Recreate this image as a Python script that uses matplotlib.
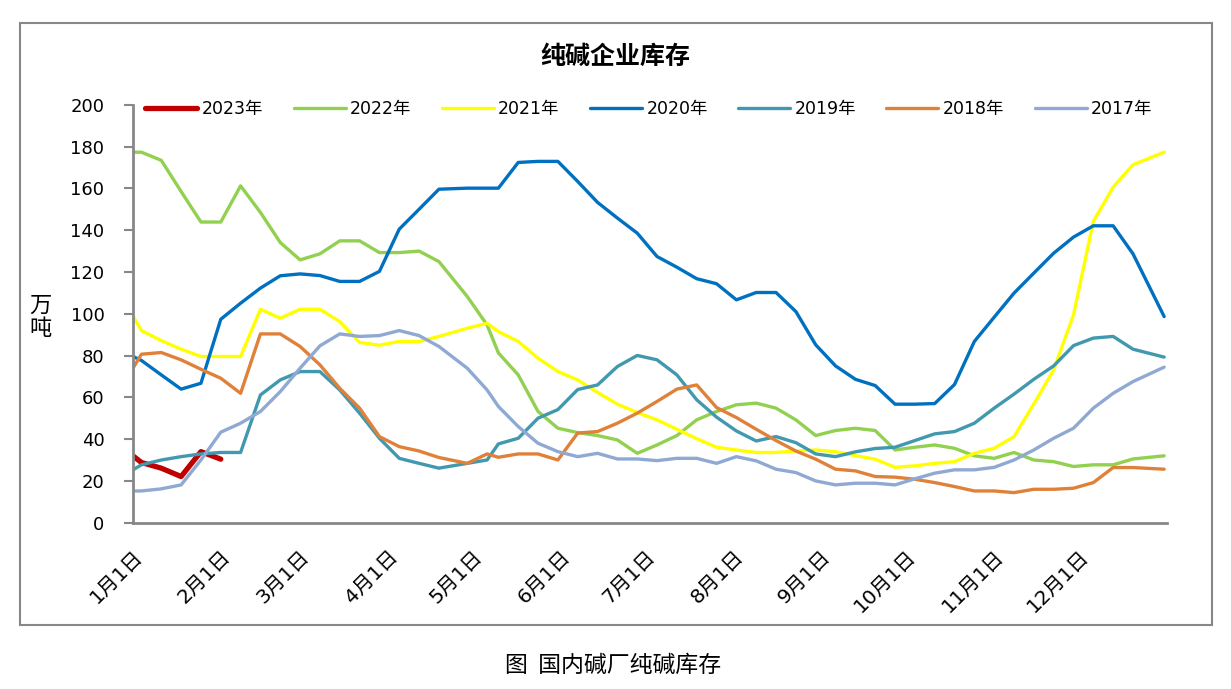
import pandas as pd
import matplotlib
matplotlib.use("Agg")
import matplotlib.pyplot as plt
from matplotlib.patches import Rectangle

plt.rcParams['font.family'] = ['DejaVu Sans', 'Noto Sans CJK SC']

# weekly dates (shared by all years, drawn on one calendar year)
dates = ['01-01', '01-04', '01-11', '01-18', '01-25',
         '02-01', '02-08', '02-15', '02-22',
         '03-01', '03-08', '03-15', '03-22', '03-29',
         '04-05', '04-12', '04-19', '04-29',
         '05-06', '05-10', '05-17', '05-24', '05-31',
         '06-07', '06-14', '06-21', '06-28',
         '07-05', '07-12', '07-19', '07-26',
         '08-02', '08-09', '08-16', '08-23', '08-30',
         '09-06', '09-13', '09-20', '09-27',
         '10-04', '10-11', '10-18', '10-25',
         '11-01', '11-08', '11-15', '11-22', '11-29',
         '12-06', '12-13', '12-20', '12-31']

y2023 = [32.1, 28.9, 26.2, 22.2, 34.1, 30.5]
y2022 = [177.3, 177.3, 173.4, 158.5, 143.9, 143.9, 161.2, 148.5, 134.1, 125.8,
         128.7, 134.9, 134.9, 129.3, 129.3, 130.0, 125.0, 108.3, 94.7, 81.3,
         70.8, 53.3, 45.3, 43.2, 41.8, 39.7, 33.3, 37.3, 41.8, 49.3,
         53.3, 56.5, 57.3, 54.9, 49.3, 41.8, 44.2, 45.3, 44.2, 34.9,
         36.2, 37.3, 35.7, 32.1, 30.9, 33.7, 30.1, 29.3, 27.0, 27.8,
         27.8, 30.6, 32.1]
y2021 = [99.0, 92.0, 87.2, 83.1, 79.6, 79.6, 79.6, 102.2, 97.9, 102.2,
         102.2, 96.3, 86.3, 85.0, 86.8, 86.8, 89.2, 93.1, 95.5, 91.5,
         86.8, 78.8, 72.4, 68.4, 62.4, 56.8, 52.8, 49.3, 44.8, 40.3,
         36.2, 34.9, 33.7, 33.7, 34.4, 34.9, 34.1, 32.2, 30.5, 26.6,
         27.3, 28.5, 29.3, 33.3, 35.7, 41.3, 56.9, 73.2, 99.5, 144.2,
         160.6, 171.3, 177.3]
y2020 = [79.6, 77.7, 70.8, 64.0, 66.8, 97.4, 105.1, 112.3, 118.2, 119.1,
         118.3, 115.5, 115.5, 120.3, 140.5, 150.0, 159.6, 160.1, 160.1, 160.1,
         172.4, 172.9, 172.9, 163.3, 153.3, 145.8, 138.6, 127.4, 122.3, 116.8,
         114.4, 106.7, 110.2, 110.2, 101.1, 85.2, 75.1, 68.7, 65.7, 56.8,
         56.8, 57.1, 66.2, 86.8, 98.4, 109.9, 119.5, 129.0, 136.7, 142.1,
         142.1, 128.7, 98.7]
y2019 = [25.4, 27.8, 30.1, 31.7, 33.0, 33.7, 33.7, 61.2, 68.4, 72.4,
         72.4, 63.6, 52.5, 40.5, 30.9, 28.5, 26.2, 28.5, 30.1, 37.8,
         40.5, 50.1, 54.2, 63.8, 66.0, 74.8, 80.1, 78.0, 70.8, 58.9,
         50.6, 44.0, 39.2, 41.3, 38.4, 33.0, 31.7, 34.0, 35.6, 36.2,
         39.4, 42.6, 43.7, 47.7, 54.9, 61.6, 68.7, 75.1, 84.8, 88.4,
         89.2, 83.1, 79.3]
y2018 = [74.0, 80.7, 81.5, 78.0, 73.5, 69.2, 62.0, 90.4, 90.4, 84.4,
         75.6, 64.4, 54.9, 41.3, 36.5, 34.4, 31.3, 28.5, 33.0, 31.4,
         33.0, 33.0, 30.1, 43.0, 43.7, 47.7, 52.5, 58.1, 64.0, 66.0,
         55.2, 50.4, 44.8, 39.4, 34.4, 30.5, 25.7, 24.9, 22.2, 21.9,
         20.9, 19.3, 17.4, 15.3, 15.3, 14.5, 16.1, 16.1, 16.6, 19.3,
         26.5, 26.5, 25.7]
y2017 = [15.3, 15.3, 16.3, 18.2, 30.1, 43.4, 47.7, 53.3, 62.8, 74.0,
         84.7, 90.4, 89.2, 89.6, 92.0, 89.6, 84.4, 74.0, 63.6, 55.7,
         46.1, 38.1, 34.1, 31.7, 33.3, 30.6, 30.6, 29.8, 30.9, 30.9,
         28.5, 31.7, 29.7, 25.7, 24.1, 20.1, 18.2, 19.0, 19.0, 18.2,
         21.1, 23.8, 25.4, 25.4, 26.6, 30.1, 34.9, 40.5, 45.3, 54.9,
         62.0, 67.6, 74.5]

labels = ['2023年', '2022年', '2021年', '2020年', '2019年', '2018年', '2017年']
series = [y2023, y2022, y2021, y2020, y2019, y2018, y2017]
colors = ['#C00000', '#92D050', '#FFFF00', '#0070C0', '#4198AF', '#E0813A', '#8FA9D2']

x = pd.to_datetime(['2021-' + d for d in dates])
months = pd.date_range('2021-01-01', periods=12, freq='MS')

fig = plt.figure(figsize=(12.31, 6.89), dpi=100)
ax = fig.add_axes([0.108, 0.241, 0.840, 0.607])

for lab, ys, c in zip(labels, series, colors):
    lw = 3.8 if lab == '2023年' else 2.4
    ax.plot(x[:len(ys)], ys, color=c, lw=lw, label=lab, solid_capstyle='round')

ax.set_ylim(0, 200)
ax.set_yticks(range(0, 201, 20))
ax.set_xlim(pd.Timestamp('2021-01-01'), pd.Timestamp('2022-01-01'))
ax.set_xticks(months)
ax.set_xticklabels([f"{m.month}月{m.day}日" for m in months],
                   rotation=45, ha='right', va='top', rotation_mode='anchor')

for s in ['top', 'right']:
    ax.spines[s].set_visible(False)
for s in ['left', 'bottom']:
    ax.spines[s].set_color('#878787')
    ax.spines[s].set_linewidth(2)
ax.tick_params(axis='y', length=6.5, width=1.5, color='#878787', labelsize=13, pad=14)
ax.tick_params(axis='x', length=0, labelsize=14.5, pad=17)

ax.legend(loc='center left', bbox_to_anchor=(0.012, 0.99), ncol=7, frameon=False,
          fontsize=12.5, handlelength=3.0, handletextpad=0.25, columnspacing=1.75,
          borderpad=0, borderaxespad=0)

fig.text(0.5, 0.917, '纯碱企业库存', ha='center', va='center', fontsize=18,
         fontweight='bold', family=['Noto Sans CJK SC'])
fig.text(0.033, 0.54, '万\n吨', ha='center', va='center', fontsize=16,
         linespacing=1.05, family=['Noto Sans CJK SC'])
fig.text(0.498, 0.034, '图  国内碱厂纯碱库存', ha='center', va='center', fontsize=16.5,
         family=['Noto Sans CJK SC'])

fig.add_artist(Rectangle((20 / 1231, 64 / 689), 1192 / 1231, 602 / 689,
                         transform=fig.transFigure, fill=False,
                         edgecolor='#878787', lw=1.5))

fig.savefig('out.png', dpi=100)
